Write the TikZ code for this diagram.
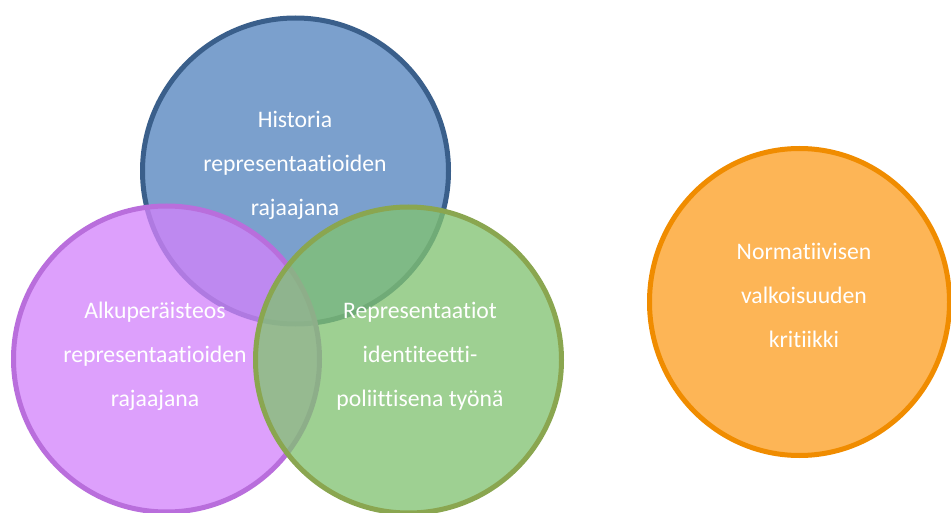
\documentclass[tikz,border=0pt]{standalone}
\usepackage{fontspec}
\setmainfont[Ligatures=NoCommon]{Carlito}
\usepackage{tikz}
\usetikzlibrary{shapes.geometric}

\definecolor{blueFill}{RGB}{123,160,205}
\definecolor{blueLine}{RGB}{58,95,139}
\definecolor{purpleFill}{RGB}{211,131,251}
\definecolor{purpleLine}{RGB}{185,110,220}
\definecolor{greenFill}{RGB}{129,194,113}
\definecolor{greenLine}{RGB}{138,166,80}
\definecolor{orangeFill}{RGB}{253,181,86}
\definecolor{orangeLine}{RGB}{240,140,0}

\begin{document}
\begin{tikzpicture}
            [x=1pt, y=-1pt,
            theme/.style={circle, minimum size=306pt, line width=5pt, inner sep=0pt},
            see through/.style={fill opacity=0.77},
            circtext/.style={text=white, align=center, inner sep=0pt, anchor=base,
                font=\fontsize{23.7}{44}\selectfont}]

            \useasboundingbox (0,0) rectangle (951,513);

            \node[theme, draw=blueLine, fill=blueFill] (historia) at (295.5,171) {};
            \node[theme, see through, draw=purpleLine, fill=purpleFill] (alkuperaisteos) at (166.5,359) {};
            \node[theme, see through, draw=greenLine, fill=greenFill] (identiteetti) at (408.5,360) {};
            \node[ellipse, minimum width=300pt, minimum height=307pt, line width=5pt,
                draw=orangeLine, fill=orangeFill] (valkoisuus) at (799.5,302) {};

            \node[circtext] (historiatext) at (295,216) {Historia\\ representaatioiden\\ rajaajana};
            \node[circtext] (alkuperaistext) at (155,406) {Alkuperäisteos\\ representaatioiden\\ rajaajana};
            \node[circtext] (identiteettitext) at (420,406) {Representaatiot\\ identiteetti-\\ poliittisena työnä};
            \node[circtext] (valkoisuustext) at (804,347) {Normatiivisen\\ valkoisuuden\\ kritiikki};
\end{tikzpicture}
\end{document}
